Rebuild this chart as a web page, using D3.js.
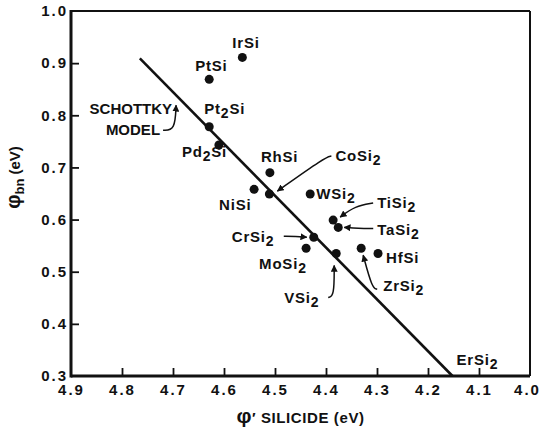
<!DOCTYPE html>
<html>
<head>
<meta charset="utf-8">
<script src="https://cdn.jsdelivr.net/npm/d3@7"></script>
<style>
  body { margin: 0; background: #fff; }
  text { font-family: "Liberation Sans", Arial, sans-serif; font-weight: bold; fill: #111; }
</style>
</head>
<body>
<svg id="chart" width="543" height="434"></svg>
<script>
// Silicide work function vs. Schottky barrier height on n-type Si
const silicides   = ["IrSi", "PtSi", "Pt2Si", "Pd2Si", "RhSi", "NiSi", "CoSi2", "WSi2",
                     "TiSi2", "TaSi2", "CrSi2", "MoSi2", "VSi2", "ZrSi2", "HfSi"];
const phiSilicide = [4.564, 4.629, 4.629, 4.610, 4.510, 4.541, 4.511, 4.431,
                     4.386, 4.376, 4.424, 4.439, 4.380, 4.331, 4.298];
const phiBn       = [0.911, 0.869, 0.778, 0.743, 0.690, 0.658, 0.649, 0.649,
                     0.599, 0.585, 0.566, 0.545, 0.535, 0.545, 0.535];

// Schottky model line (end points)
const modelPhi     = [4.765, 4.152];
const modelBarrier = [0.909, 0.300];
const modelTagPhi  = 4.694;   // where the "SCHOTTKY MODEL" arrow points
const endLabel     = "ErSi2";

const xTicks = [4.9, 4.8, 4.7, 4.6, 4.5, 4.4, 4.3, 4.2, 4.1, 4.0];
const yTicks = [0.3, 0.4, 0.5, 0.6, 0.7, 0.8, 0.9, 1.0];

// label placement (pixel offsets from each point) and leader lines
const labelOffset = {
  IrSi: [-10, -9], PtSi: [-14, -8], Pt2Si: [-5, -13], Pd2Si: [-37, 12],
  RhSi: [-9, -11], NiSi: [-35, 21], CoSi2: [66, -33], WSi2: [6, 5],
  TiSi2: [44, -12], TaSi2: [39, 8], CrSi2: [-82, 5], MoSi2: [-47, 21],
  VSi2: [-52, 50], ZrSi2: [22, 43], HfSi: [8, 10]
};
const leaders = {
  CoSi2: [[62, -38], [56, -37], [8, -3]],
  TiSi2: [[40, -17], [22, -14], [7, -3]],
  TaSi2: [[35, 1], [20, 1], [6, 0]],
  CrSi2: [[-30, -1], [-18, -1], [-7, 0]],
  VSi2:  [[-8, 44], [-2, 43], [-2, 12]],
  ZrSi2: [[16, 41], [11, 40], [2, 7]]
};

const W = 543, H = 434;
const margin = { left: 71, right: 13, top: 11, bottom: 58 };
const x = d3.scaleLinear().domain([4.9, 4.0]).range([margin.left, W - margin.right]);
const y = d3.scaleLinear().domain([0.3, 1.0]).range([H - margin.bottom, margin.top]);

const svg = d3.select("#chart");

svg.append("defs").append("marker")
  .attr("id", "arrow").attr("viewBox", "0 0 10 10")
  .attr("refX", 9).attr("refY", 5)
  .attr("markerWidth", 7).attr("markerHeight", 7)
  .attr("markerUnits", "userSpaceOnUse")
  .attr("orient", "auto")
  .append("path").attr("d", "M0,0 L10,5 L0,10 Z").attr("fill", "#111");

// text with digit subscripts (e.g. Pt2Si)
function chemText(g, label, px, py, anchor) {
  const t = g.append("text").attr("x", px).attr("y", py)
    .attr("text-anchor", anchor || "start").attr("font-size", 15)
    .attr("letter-spacing", 0.8);
  const parts = label.split(/(\d+)/).filter(s => s.length);
  let sub = false;
  parts.forEach(p => {
    const isDigit = /^\d+$/.test(p);
    const ts = t.append("tspan").text(p);
    if (isDigit) { ts.attr("dy", 4).attr("font-size", 14); sub = true; }
    else if (sub) { ts.attr("dy", -4); sub = false; }
  });
  return t;
}

// axes (ticks point inward)
const xAxis = d3.axisBottom(x).tickValues(xTicks).tickFormat(d3.format(".1f"))
  .tickSizeInner(-8).tickSizeOuter(0).tickPadding(8);
const yAxis = d3.axisLeft(y).tickValues(yTicks).tickFormat(d3.format(".1f"))
  .tickSizeInner(-8).tickSizeOuter(0).tickPadding(3);

const gx = svg.append("g").attr("transform", `translate(0,${y(0.3)})`).call(xAxis);
const gy = svg.append("g").attr("transform", `translate(${x(4.9)},0)`).call(yAxis);
[gx, gy].forEach(g => {
  g.select(".domain").remove();
  g.selectAll(".tick line").attr("stroke", "#111").attr("stroke-width", 1.8);
  g.selectAll(".tick text").attr("font-size", 15).attr("fill", "#111")
    .attr("font-family", "\"Liberation Sans\", Arial, sans-serif")
    .attr("font-weight", "bold").attr("letter-spacing", 2);
});
gx.selectAll(".tick").filter(d => d === 4.0).select("text").attr("dx", -3);
gx.selectAll(".tick").filter(d => d === 4.9 || d === 4.0).select("line").remove();
gy.selectAll(".tick").filter(d => d === 0.3 || d === 1.0).select("line").remove();

// frame
const x0 = x(4.9), x1 = x(4.0), y0 = y(0.3), y1 = y(1.0);
svg.append("line").attr("x1", x0).attr("x2", x1).attr("y1", y1).attr("y2", y1)
  .attr("stroke", "#111").attr("stroke-width", 2);
svg.append("line").attr("x1", x1).attr("x2", x1).attr("y1", y1).attr("y2", y0)
  .attr("stroke", "#111").attr("stroke-width", 2);
svg.append("line").attr("x1", x0).attr("x2", x1).attr("y1", y0).attr("y2", y0)
  .attr("stroke", "#111").attr("stroke-width", 3);
svg.append("line").attr("x1", x0).attr("x2", x0).attr("y1", y1 - 1).attr("y2", y0 + 1.5)
  .attr("stroke", "#111").attr("stroke-width", 3);

// Schottky model line
svg.append("line")
  .attr("x1", x(modelPhi[0])).attr("y1", y(modelBarrier[0]))
  .attr("x2", x(modelPhi[1])).attr("y2", y(modelBarrier[1]))
  .attr("stroke", "#111").attr("stroke-width", 2.6);

const slope = (modelBarrier[1] - modelBarrier[0]) / (modelPhi[1] - modelPhi[0]);
const tagX = x(modelTagPhi);
const tagY = y(modelBarrier[0] + slope * (modelTagPhi - modelPhi[0]));
const ann = svg.append("g");
ann.append("text").attr("x", tagX - 4).attr("y", tagY + 19).attr("text-anchor", "end")
  .attr("font-size", 15).text("SCHOTTKY");
ann.append("text").attr("x", tagX - 16).attr("y", tagY + 40).attr("text-anchor", "end")
  .attr("font-size", 15).text("MODEL");
ann.append("path")
  .attr("d", d3.line().curve(d3.curveBasis)([[tagX - 13, tagY + 35], [tagX - 1, tagY + 35], [tagX, tagY + 10]]))
  .attr("fill", "none").attr("stroke", "#111").attr("stroke-width", 1.5)
  .attr("marker-end", "url(#arrow)");
chemText(ann, endLabel, x(modelPhi[1]) + 4, y(modelBarrier[1]) - 11, "start");

// points
const pts = silicides.map((n, i) => ({ name: n, px: x(phiSilicide[i]), py: y(phiBn[i]) }));
svg.append("g").selectAll("circle").data(pts).join("circle")
  .attr("cx", d => d.px).attr("cy", d => d.py).attr("r", 4.5).attr("fill", "#111");

// leaders
const lg = svg.append("g");
pts.filter(d => leaders[d.name]).forEach(d => {
  const p = leaders[d.name].map(([dx, dy]) => [d.px + dx, d.py + dy]);
  lg.append("path").attr("d", d3.line().curve(d3.curveBasis)(p))
    .attr("fill", "none").attr("stroke", "#111").attr("stroke-width", 1.5)
    .attr("marker-end", "url(#arrow)");
});

// point labels
const tg = svg.append("g");
pts.forEach(d => {
  const o = labelOffset[d.name];
  chemText(tg, d.name, d.px + o[0], d.py + o[1], "start");
});

// axis titles
const xt = svg.append("text").attr("x", (x0 + x1) / 2).attr("y", 423)
  .attr("text-anchor", "middle").attr("font-size", 15).attr("letter-spacing", 0.6);
xt.append("tspan").attr("font-size", 21).text("φ");
xt.append("tspan").text("′ SILICIDE (eV)");

const yt = svg.append("text")
  .attr("transform", `translate(20,${(y(0.3) + y(1.0)) / 2 - 16}) rotate(-90)`)
  .attr("text-anchor", "middle").attr("font-size", 15);
yt.append("tspan").attr("font-size", 20).text("φ");
yt.append("tspan").attr("dy", 4).attr("font-size", 13).text("bn");
yt.append("tspan").attr("dy", -4).text(" (eV)");
</script>
</body>
</html>
